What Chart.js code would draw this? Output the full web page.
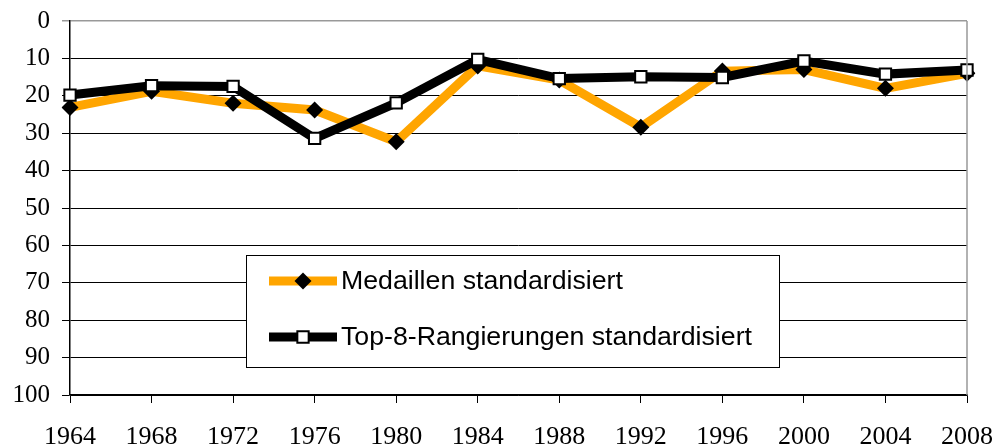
<!DOCTYPE html>
<html>
<head>
<meta charset="utf-8">
<script src="https://cdn.jsdelivr.net/npm/chart.js@4/dist/chart.umd.min.js"></script>
<style>
html,body{margin:0;padding:0;background:#fff;}
#c{display:block;}
</style>
</head>
<body>
<canvas id="c" width="997" height="447"></canvas>
<script>
const years = ['1964','1968','1972','1976','1980','1984','1988','1992','1996','2000','2004','2008'];
const medaillen = [23.1, 18.8, 22.0, 23.8, 32.3, 12.0, 15.8, 28.4, 13.4, 13.0, 18.0, 14.0];
const top8 = [19.8, 17.3, 17.5, 31.4, 21.9, 10.3, 15.4, 14.9, 15.1, 10.7, 14.2, 13.1];
const seriesNames = ['Medaillen standardisiert', 'Top-8-Rangierungen standardisiert'];
const yTicks = [0,10,20,30,40,50,60,70,80,90,100];

const serif = '"Liberation Serif", "Times New Roman", serif';
const sans = '"Liberation Sans", Arial, sans-serif';

const legendPlugin = {
  id: 'customLegend',
  afterDraw(chart) {
    const ctx = chart.ctx;
    const a = chart.chartArea;
    ctx.save();
    ctx.strokeStyle = '#999';
    ctx.lineWidth = 1.5;
    ctx.beginPath();
    ctx.moveTo(a.right, a.top);
    ctx.lineTo(a.right, a.bottom);
    ctx.stroke();
    ctx.restore();

    const bx = 246, by = 255, bw = 533, bh = 112;
    ctx.save();
    ctx.fillStyle = '#fff';
    ctx.fillRect(bx, by, bw, bh);
    ctx.strokeStyle = '#000';
    ctx.lineWidth = 1;
    ctx.strokeRect(bx + 0.5, by + 0.5, bw, bh);
    const rows = [by + 26, by + 82];
    chart.data.datasets.forEach((ds, i) => {
      const y = rows[i];
      ctx.strokeStyle = ds.borderColor;
      ctx.lineWidth = ds.borderWidth;
      ctx.beginPath();
      ctx.moveTo(269, y);
      ctx.lineTo(337, y);
      ctx.stroke();
      ctx.fillStyle = ds.pointBackgroundColor;
      ctx.strokeStyle = ds.pointBorderColor;
      ctx.lineWidth = ds.pointBorderWidth;
      ctx.beginPath();
      if (ds.pointStyle === 'rectRot') {
        const r = ds.pointRadius;
        ctx.moveTo(303 - r, y); ctx.lineTo(303, y - r); ctx.lineTo(303 + r, y); ctx.lineTo(303, y + r); ctx.closePath();
      } else {
        const h = ds.pointRadius * Math.SQRT1_2;
        ctx.rect(303 - h, y - h, 2 * h, 2 * h);
      }
      ctx.fill();
      if (ds.pointBorderWidth) ctx.stroke();
      ctx.fillStyle = '#000';
      ctx.font = '26.7px ' + sans;
      ctx.textBaseline = 'middle';
      ctx.textAlign = 'left';
      ctx.fillText(ds.label, 341, y + 1);
    });
    ctx.restore();
  }
};

new Chart(document.getElementById('c'), {
  type: 'line',
  data: {
    labels: years,
    datasets: [
      {
        label: seriesNames[0],
        data: medaillen,
        borderColor: '#FFA500',
        borderWidth: 9,
        pointStyle: 'rectRot',
        pointRadius: 8.5,
        pointBackgroundColor: '#000',
        pointBorderColor: '#000',
        pointBorderWidth: 0,
        tension: 0,
        order: 1
      },
      {
        label: seriesNames[1],
        data: top8,
        borderColor: '#000',
        borderWidth: 9,
        pointStyle: 'rect',
        pointRadius: 8,
        pointBackgroundColor: '#fff',
        pointBorderColor: '#000',
        pointBorderWidth: 2,
        tension: 0,
        order: 0
      }
    ]
  },
  options: {
    responsive: false,
    animation: false,
    events: [],
    layout: { padding: { top: 21, right: 30, left: 0, bottom: 0 } },
    plugins: { legend: { display: false }, tooltip: { enabled: false } },
    scales: {
      x: {
        type: 'category',
        offset: false,
        grid: { drawOnChartArea: false, drawTicks: true, tickLength: 8, color: '#000', lineWidth: 1 },
        border: { color: '#000', width: 1.5 },
        ticks: { color: '#000', font: { family: serif, size: 26 }, padding: 19, maxRotation: 0, autoSkip: false },
        afterFit(s) { s.height = 52; s.paddingLeft = 0; s.paddingRight = 0; }
      },
      y: {
        reverse: true,
        min: 0,
        max: 100,
        afterBuildTicks(s) { s.ticks = yTicks.map(v => ({ value: v })); },
        grid: {
          color: c => (c.tick && c.tick.value === 0) ? '#999' : '#000',
          lineWidth: c => (c.tick && c.tick.value === 0) ? 1.5 : 1,
          tickLength: 8
        },
        border: { color: '#000', width: 1.5 },
        ticks: { color: '#000', font: { family: serif, size: 25 }, padding: 12 },
        afterFit(s) { s.width = 70; s.paddingTop = 0; s.paddingBottom = 0; }
      }
    }
  },
  plugins: [legendPlugin]
});
</script>
</body>
</html>
